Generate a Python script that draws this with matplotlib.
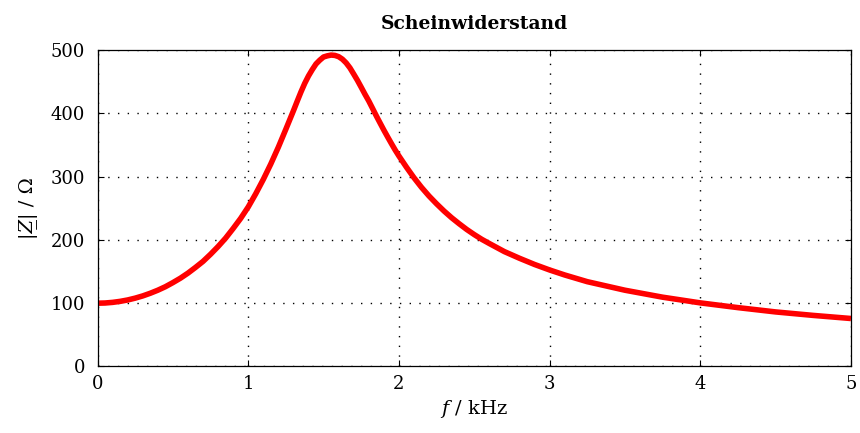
import matplotlib
matplotlib.use("Agg")
import matplotlib.pyplot as plt

# frequency in kHz, impedance magnitude in Ohm
freq_khz = [
    0.0, 0.05, 0.1, 0.15, 0.2, 0.25, 0.3, 0.35, 0.4, 0.45, 0.5, 0.55,
    0.6, 0.65, 0.7, 0.75, 0.8, 0.85, 0.9, 0.95, 1.0, 1.05, 1.1, 1.15,
    1.2, 1.25, 1.275, 1.3, 1.325, 1.35, 1.375, 1.4, 1.425, 1.45, 1.475,
    1.5, 1.525, 1.55, 1.575, 1.6, 1.625, 1.65, 1.675, 1.7, 1.725, 1.75,
    1.775, 1.8, 1.825, 1.85, 1.875, 1.9, 1.925, 1.95, 1.975, 2.0, 2.05,
    2.1, 2.15, 2.2, 2.25, 2.3, 2.35, 2.4, 2.45, 2.5, 2.55, 2.6, 2.7,
    2.8, 2.9, 3.0, 3.1, 3.25, 3.5, 3.75, 4.0, 4.25, 4.5, 4.75, 5.0,
]
z_abs = [
    100, 100.3, 101.3, 102.9, 105.1, 108, 111.5, 115.7, 120.5, 126, 132.5, 139.5,
    147.5, 156.5, 166, 177.3, 189.5, 202.8, 218, 234, 252, 272.9, 295.5, 320,
    346.5, 375, 389.5, 404, 419, 433.7, 447.3, 459, 469, 478, 484,
    489, 490.8, 492, 491.5, 489.5, 485.5, 479.6, 471.8, 462, 452, 441.1,
    430, 419.5, 407.8, 396, 384.7, 373.5, 362.8, 352.3, 342.1, 332.6, 314.9,
    298.2, 283, 269.3, 257, 245.5, 235, 225.5, 216.5, 208.4, 200.9, 194.3, 181.5,
    171, 161.2, 152.5, 144.6, 134, 120.5, 109.5, 100.5, 93, 86.2, 80.7, 75.8,
]
x_ticks = [0, 1, 2, 3, 4, 5]
y_ticks = [0, 100, 200, 300, 400, 500]

plt.rcParams["font.family"] = "DejaVu Serif"
plt.rcParams["mathtext.fontset"] = "dejavuserif"

fig = plt.figure(figsize=(8.6, 4.33), dpi=100)
ax = fig.add_axes([0.1134, 0.1536, 0.8761, 0.7309])

ax.plot(freq_khz, z_abs, color="#ff0000", linewidth=4.0, solid_capstyle="butt",
        solid_joinstyle="round", zorder=3)

ax.set_xlim(0, 5)
ax.set_ylim(0, 500)
ax.set_xticks(x_ticks)
ax.set_yticks(y_ticks)
ax.grid(True, color="black", linewidth=1.0, linestyle=(0, (1, 6)), zorder=1)
ax.set_axisbelow(True)
ax.tick_params(direction="in", length=4.5, width=0.8, top=True, right=True,
               labelsize=13, colors="black")
ax.tick_params(axis="x", pad=6)
ax.tick_params(axis="y", pad=9)
for spine in ax.spines.values():
    spine.set_linewidth(0.9)
    spine.set_zorder(4)

ax.set_title("Scheinwiderstand", fontsize=13.5, fontweight="bold", pad=15)
ax.set_xlabel(r"$f$ / kHz", fontsize=14, labelpad=4)
ax.set_ylabel("|\U0001D44D\u0332| / Ω", fontsize=14, labelpad=9)

fig.savefig("out.png", dpi=100)
plt.close(fig)
